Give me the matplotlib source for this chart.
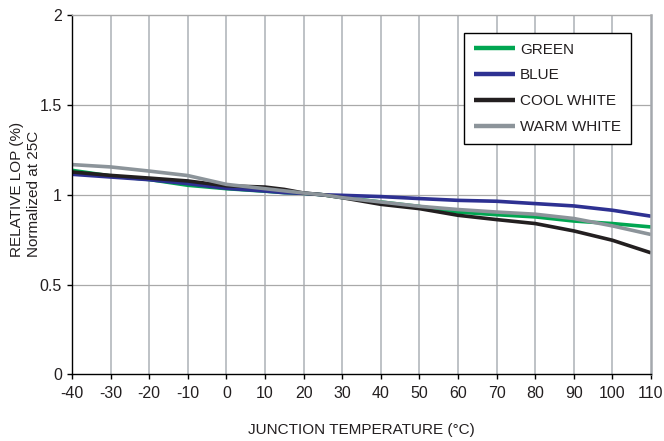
import matplotlib
matplotlib.use("Agg")
import matplotlib.pyplot as plt

plt.rcParams['font.family'] = ['Liberation Sans', 'DejaVu Sans']
plt.rcParams['axes.unicode_minus'] = False

temps = [-40, -30, -20, -10, 0, 10, 15, 20, 25, 30, 40, 50, 60, 70, 80, 90, 100, 110]
green = [1.136, 1.105, 1.085, 1.053, 1.034, 1.020, 1.012, 1.008, 1.0, 0.985, 0.960, 0.935, 0.904, 0.889, 0.877, 0.854, 0.840, 0.821]
blue = [1.114, 1.099, 1.084, 1.062, 1.036, 1.021, 1.012, 1.008, 1.0, 0.997, 0.990, 0.979, 0.969, 0.964, 0.951, 0.938, 0.914, 0.881]
cool_white = [1.127, 1.108, 1.093, 1.077, 1.050, 1.043, 1.030, 1.010, 1.0, 0.984, 0.947, 0.923, 0.886, 0.862, 0.840, 0.799, 0.747, 0.677]
warm_white = [1.168, 1.155, 1.132, 1.107, 1.058, 1.034, 1.022, 1.010, 1.0, 0.984, 0.960, 0.936, 0.918, 0.904, 0.892, 0.868, 0.827, 0.779]

series = [
    ("GREEN", green, "#00a651"),
    ("BLUE", blue, "#2e3192"),
    ("COOL WHITE", cool_white, "#231f20"),
    ("WARM WHITE", warm_white, "#8c949a"),
]

x_ticks = list(range(-40, 111, 10))
y_ticks = [0, 0.5, 1, 1.5, 2]
y_tick_labels = ["0", "0.5", "1", "1.5", "2"]

TEXT = "#231f20"

fig = plt.figure(figsize=(6.64, 4.41), dpi=100)
ax = fig.add_axes([0.1084, 0.1508, 0.872, 0.815])

for x in x_ticks[1:-1]:
    ax.axvline(x, color="#b9bdc2", lw=1.3, zorder=0)
for y in y_ticks[1:-1]:
    ax.axhline(y, color="#a9a9a9", lw=0.9, zorder=0)

for name, vals, col in series:
    ax.plot(temps, vals, color=col, lw=2.6, label=name, solid_capstyle="butt")

ax.set_xlim(-40, 110)
ax.set_ylim(0, 2)
ax.set_xticks(x_ticks)
ax.set_yticks(y_ticks)
ax.set_yticklabels(y_tick_labels)
ax.tick_params(axis="both", labelsize=11.5, length=3.6, width=1, color="black",
               direction="out", labelcolor=TEXT)
ax.tick_params(axis="x", pad=4.5)
ax.tick_params(axis="y", pad=3.6)

ax.spines["left"].set_color("black")
ax.spines["bottom"].set_color("black")
ax.spines["left"].set_linewidth(1.0)
ax.spines["bottom"].set_linewidth(1.0)
ax.spines["top"].set_color("#a9a9a9")
ax.spines["top"].set_linewidth(1.0)
ax.spines["right"].set_color("#a4a8ad")
ax.spines["right"].set_linewidth(1.8)

ax.set_xlabel("JUNCTION TEMPERATURE (\u00b0C)", fontsize=11, color=TEXT)
ax.xaxis.set_label_coords(0.5, -0.154)
ax.xaxis.label.set_va("center")

fig.text(0.0388, 0.570, "RELATIVE LOP (%)\nNormalized at 25C", fontsize=11, rotation=90,
         ha="center", va="center", multialignment="left", linespacing=1.27, color=TEXT)

leg = ax.legend(loc="upper right", bbox_to_anchor=(0.965, 0.95), fontsize=11,
                fancybox=False, edgecolor="black", framealpha=1, handlelength=2.68,
                handletextpad=0.37, labelspacing=0.775, borderpad=0.62, borderaxespad=0)
leg.get_frame().set_linewidth(1.0)
for line in leg.get_lines():
    line.set_linewidth(3.2)
for t in leg.get_texts():
    t.set_color(TEXT)

fig.savefig("out.png", dpi=100)
